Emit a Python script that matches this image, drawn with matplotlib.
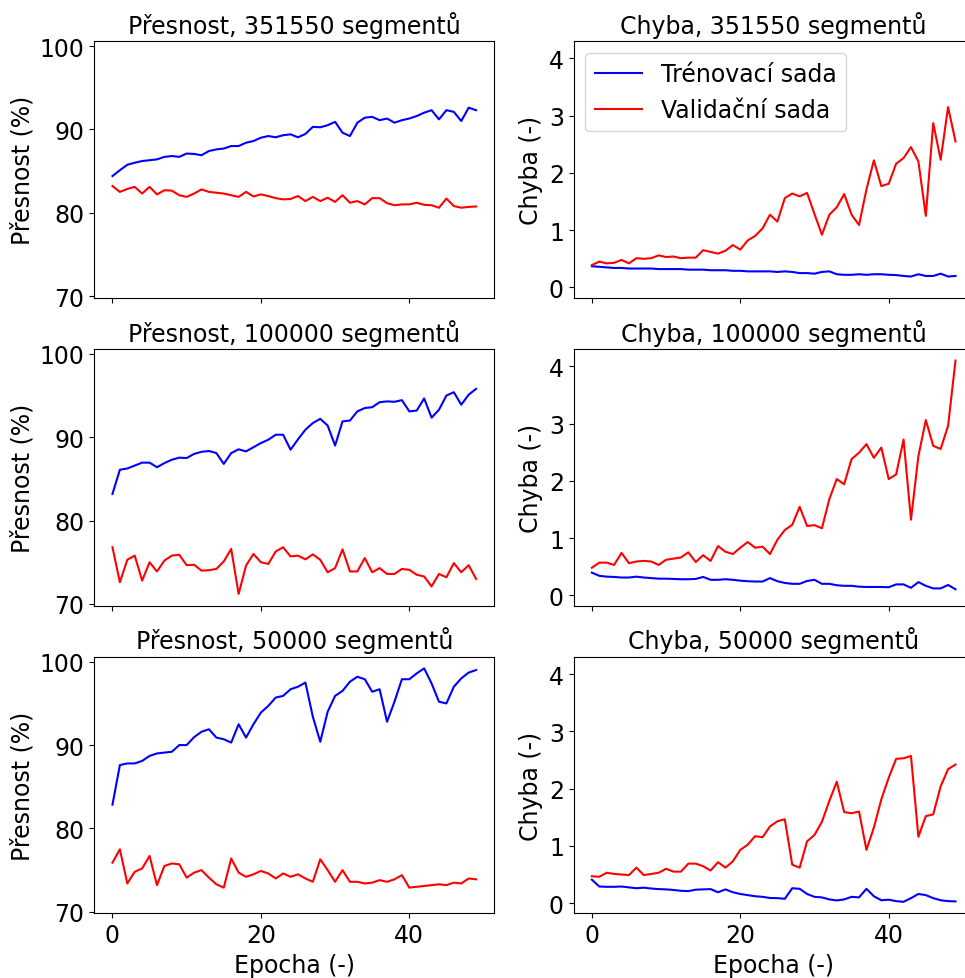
import numpy as np
import matplotlib
matplotlib.use("Agg")
import matplotlib.pyplot as plt

FONTSIZE = 17

segments = [351550, 100000, 50000]
epochs = np.arange(50)

# 351550 segmentů
acc_train_351550 = [84.4, 85.1, 85.75, 86.0, 86.2, 86.3, 86.4, 86.7, 86.8, 86.7,
                    87.1, 87.05, 86.9, 87.4, 87.6, 87.7, 88.0, 88.0, 88.4, 88.6,
                    89.0, 89.2, 89.05, 89.3, 89.4, 89.05, 89.45, 90.3, 90.25, 90.5,
                    90.9, 89.6, 89.2, 90.8, 91.4, 91.5, 91.1, 91.3, 90.8, 91.1,
                    91.3, 91.6, 92.0, 92.3, 91.2, 92.3, 92.1, 91.0, 92.6, 92.3]
acc_val_351550 = [83.2, 82.5, 82.85, 83.1, 82.3, 83.1, 82.2, 82.7, 82.65, 82.1,
                  81.9, 82.3, 82.8, 82.5, 82.4, 82.3, 82.1, 81.9, 82.5, 81.95,
                  82.2, 82.0, 81.75, 81.6, 81.65, 82.0, 81.4, 81.9, 81.4, 81.8,
                  81.3, 82.1, 81.2, 81.4, 81.0, 81.75, 81.75, 81.15, 80.9, 81.0,
                  81.0, 81.2, 80.95, 80.9, 80.6, 81.7, 80.8, 80.6, 80.7, 80.75]
loss_train_351550 = [0.37, 0.36, 0.35, 0.34, 0.34, 0.33, 0.33, 0.33, 0.33, 0.32,
                     0.32, 0.32, 0.32, 0.31, 0.31, 0.31, 0.30, 0.30, 0.30, 0.29,
                     0.29, 0.28, 0.28, 0.28, 0.28, 0.27, 0.28, 0.27, 0.25, 0.25,
                     0.24, 0.27, 0.28, 0.23, 0.22, 0.22, 0.23, 0.22, 0.23, 0.23,
                     0.22, 0.215, 0.20, 0.19, 0.23, 0.20, 0.20, 0.24, 0.19, 0.20]
loss_val_351550 = [0.39, 0.45, 0.42, 0.43, 0.48, 0.42, 0.51, 0.50, 0.51, 0.56,
                   0.53, 0.54, 0.51, 0.52, 0.52, 0.65, 0.62, 0.59, 0.64, 0.74,
                   0.66, 0.82, 0.90, 1.03, 1.27, 1.15, 1.56, 1.64, 1.59, 1.65,
                   1.28, 0.92, 1.27, 1.40, 1.63, 1.27, 1.09, 1.71, 2.22, 1.77,
                   1.81, 2.16, 2.26, 2.45, 2.20, 1.25, 2.87, 2.23, 3.15, 2.55]

# 100000 segmentů
acc_train_100000 = [83.2, 86.1, 86.25, 86.6, 86.95, 86.95, 86.4, 86.9, 87.3, 87.55,
                    87.5, 88.0, 88.25, 88.35, 88.1, 86.8, 88.1, 88.55, 88.3, 88.8,
                    89.3, 89.7, 90.3, 90.3, 88.5, 89.75, 90.9, 91.7, 92.2, 91.4,
                    89.0, 91.9, 92.0, 93.1, 93.5, 93.6, 94.2, 94.3, 94.25, 94.45,
                    93.1, 93.2, 94.65, 92.35, 93.3, 95.0, 95.4, 93.9, 95.1, 95.8]
acc_val_100000 = [76.8, 72.6, 75.3, 75.8, 72.8, 75.0, 73.9, 75.2, 75.8, 75.9,
                  74.65, 74.7, 74.0, 74.05, 74.2, 75.1, 76.6, 71.2, 74.6, 76.0,
                  75.0, 74.8, 76.3, 76.8, 75.7, 75.8, 75.35, 75.95, 75.3, 73.8,
                  74.3, 76.55, 73.9, 73.9, 75.5, 73.8, 74.3, 73.6, 73.6, 74.2,
                  74.1, 73.5, 73.3, 72.1, 73.6, 73.2, 74.9, 73.8, 74.65, 73.0]
loss_train_100000 = [0.395, 0.34, 0.325, 0.32, 0.31, 0.31, 0.325, 0.31, 0.30, 0.29,
                     0.29, 0.285, 0.28, 0.28, 0.285, 0.32, 0.27, 0.27, 0.28, 0.27,
                     0.255, 0.245, 0.24, 0.24, 0.30, 0.245, 0.215, 0.20, 0.20, 0.25,
                     0.27, 0.20, 0.20, 0.175, 0.165, 0.165, 0.15, 0.145, 0.145, 0.145,
                     0.14, 0.19, 0.19, 0.13, 0.23, 0.165, 0.12, 0.12, 0.18, 0.105]
loss_val_100000 = [0.48, 0.57, 0.57, 0.53, 0.74, 0.56, 0.59, 0.60, 0.59, 0.53,
                   0.62, 0.64, 0.66, 0.75, 0.58, 0.70, 0.60, 0.86, 0.76, 0.72,
                   0.83, 0.93, 0.83, 0.85, 0.72, 0.97, 1.14, 1.23, 1.545, 1.21,
                   1.225, 1.17, 1.68, 2.03, 1.94, 2.38, 2.49, 2.64, 2.40, 2.58,
                   2.03, 2.11, 2.72, 1.32, 2.43, 3.06, 2.61, 2.555, 2.96, 4.10]

# 50000 segmentů
acc_train_50000 = [82.85, 87.6, 87.8, 87.8, 88.1, 88.7, 89.0, 89.1, 89.2, 90.0,
                   90.0, 90.95, 91.6, 91.9, 90.9, 90.7, 90.3, 92.5, 90.9, 92.5,
                   93.9, 94.7, 95.7, 95.9, 96.7, 97.0, 97.5, 93.4, 90.4, 94.0,
                   95.9, 96.5, 97.6, 98.2, 97.9, 96.4, 96.7, 92.8, 95.2, 97.9,
                   97.9, 98.6, 99.2, 97.4, 95.2, 95.0, 97.0, 98.0, 98.7, 99.0]
acc_val_50000 = [75.9, 77.5, 73.4, 74.8, 75.2, 76.7, 73.2, 75.5, 75.8, 75.7,
                 74.1, 74.7, 75.0, 74.1, 73.3, 72.9, 76.4, 74.7, 74.2, 74.5,
                 74.9, 74.6, 74.0, 74.6, 74.2, 74.5, 74.0, 73.6, 76.3, 75.0,
                 73.6, 75.0, 73.6, 73.6, 73.4, 73.5, 73.8, 73.6, 73.9, 74.4,
                 72.9, 73.0, 73.1, 73.2, 73.3, 73.2, 73.5, 73.4, 74.0, 73.9]
loss_train_50000 = [0.41, 0.29, 0.285, 0.285, 0.29, 0.275, 0.26, 0.27, 0.255, 0.245,
                    0.24, 0.23, 0.215, 0.21, 0.235, 0.24, 0.245, 0.19, 0.24, 0.19,
                    0.16, 0.14, 0.12, 0.11, 0.09, 0.087, 0.076, 0.26, 0.25, 0.16,
                    0.11, 0.10, 0.065, 0.047, 0.065, 0.11, 0.10, 0.25, 0.12, 0.05,
                    0.06, 0.035, 0.023, 0.087, 0.16, 0.14, 0.087, 0.05, 0.035, 0.03]
loss_val_50000 = [0.47, 0.46, 0.53, 0.51, 0.50, 0.49, 0.62, 0.49, 0.51, 0.53,
                  0.60, 0.55, 0.55, 0.69, 0.69, 0.645, 0.57, 0.715, 0.62, 0.73,
                  0.93, 1.02, 1.17, 1.15, 1.34, 1.43, 1.465, 0.67, 0.62, 1.08,
                  1.19, 1.42, 1.785, 2.12, 1.59, 1.57, 1.60, 0.93, 1.32, 1.81,
                  2.19, 2.52, 2.53, 2.57, 1.16, 1.52, 1.55, 2.04, 2.34, 2.42]

acc_train = [acc_train_351550, acc_train_100000, acc_train_50000]
acc_val = [acc_val_351550, acc_val_100000, acc_val_50000]
loss_train = [loss_train_351550, loss_train_100000, loss_train_50000]
loss_val = [loss_val_351550, loss_val_100000, loss_val_50000]

plt.rcParams['font.size'] = FONTSIZE

fig, axes = plt.subplots(3, 2, figsize=(9.65, 9.79), dpi=100,
                         sharex='col', sharey='col')
fig.subplots_adjust(left=0.0977, right=1.009, bottom=0.0659, top=0.9571,
                    wspace=0.1985, hspace=0.199)

for row, n in enumerate(segments):
    ax_acc, ax_loss = axes[row]

    ax_acc.plot(epochs, acc_train[row], color='blue')
    ax_acc.plot(epochs, acc_val[row], color='red')
    ax_acc.set_title('Přesnost, {} segmentů'.format(n), fontsize=FONTSIZE)
    ax_acc.set_ylabel('Přesnost (%)', fontsize=FONTSIZE)

    ax_loss.plot(epochs, loss_train[row], color='blue', label='Trénovací sada')
    ax_loss.plot(epochs, loss_val[row], color='red', label='Validační sada')
    ax_loss.set_title('Chyba, {} segmentů'.format(n), fontsize=FONTSIZE)
    ax_loss.set_ylabel('Chyba (-)', fontsize=FONTSIZE)

    for ax in (ax_acc, ax_loss):
        ax.tick_params(labelsize=FONTSIZE)

axes[0, 0].set_yticks([70, 80, 90, 100])
axes[0, 1].set_yticks([0, 1, 2, 3, 4])
axes[0, 1].legend(loc='upper left', fontsize=FONTSIZE)
for ax in axes[2]:
    ax.set_xlabel('Epocha (-)', fontsize=FONTSIZE)
    ax.set_xticks([0, 20, 40])

fig.savefig('out.png', dpi=100)
